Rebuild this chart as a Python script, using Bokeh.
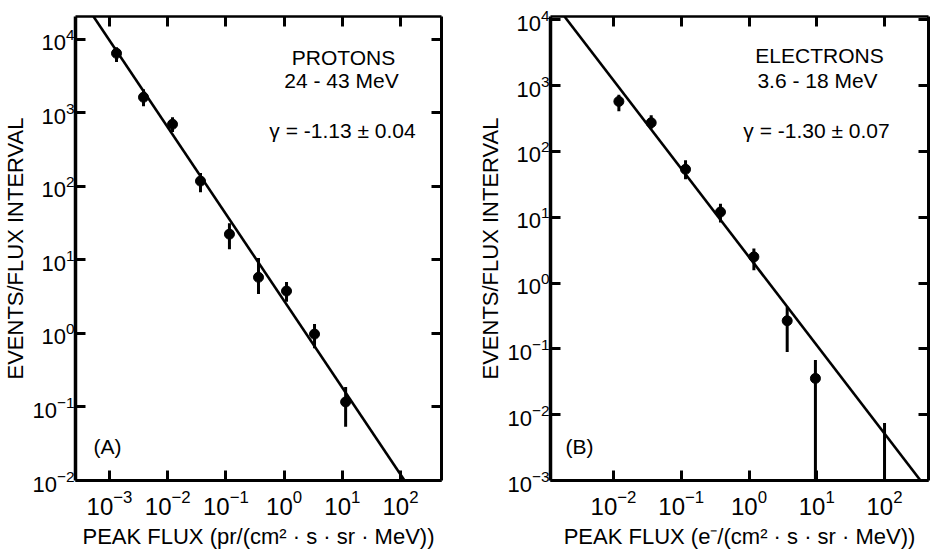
import math
from bokeh.plotting import figure
from bokeh.layouts import row
from bokeh.models import (Range1d, LogAxis, FixedTicker, Label, CustomJSTickFormatter,
                          LogTickFormatter)
from bokeh.embed import file_html
from bokeh.resources import INLINE

FONT = "Liberation Sans"

# ---------------- data ----------------
# Panel A: protons 24 - 43 MeV
prot_flux = [1.32e-3, 3.84e-3, 1.21e-2, 3.66e-2, 0.115, 0.363, 1.10, 3.33, 11.4]
prot_rate = [6450, 1630, 700, 118, 22.4, 5.8, 3.77, 0.98, 0.117]
prot_lo = [4900, 1230, 550, 83, 14.0, 3.43, 2.7, 0.63, 0.054]
prot_hi = [7800, 2090, 870, 152, 31.6, 10.6, 5.0, 1.34, 0.187]
prot_fit_flux = [5.31e-4, 117.2]
prot_fit_rate = [20400, 0.01]

# Panel B: electrons 3.6 - 18 MeV
elec_flux = [0.0120, 0.036, 0.1156, 0.379, 1.18, 3.66, 9.55, 100]
elec_rate = [575, 273, 53.5, 12.0, 2.5, 0.267, 0.0356, float("nan")]
elec_lo = [406, 222, 37.7, 8.3, 1.57, 0.090, 0.001, 0.001]
elec_hi = [728, 353, 73.3, 16.1, 3.35, 0.435, 0.0676, 0.0075]
elec_fit_flux = [1.89e-3, 340]
elec_fit_rate = [11220, 0.001]

# tick values
xticks_A = [1e-3, 1e-2, 1e-1, 1e0, 1e1, 1e2]
yticks_A = [1e-2, 1e-1, 1e0, 1e1, 1e2, 1e3, 1e4]
xticks_B = [1e-2, 1e-1, 1e0, 1e1, 1e2]
yticks_B = [1e-3, 1e-2, 1e-1, 1e0, 1e1, 1e2, 1e3, 1e4]

# ---------------- layout constants ----------------
W, H = 465, 554
TOP, BOT = 16, 480          # frame top / bottom (px from top)


def make_panel(cfg):
    xl0, xl1 = cfg["xlog"]
    yl0, yl1 = cfg["ylog"]
    bl, br = cfg["border_l"], cfg["border_r"]
    fw = W - bl - br

    def dx(px):
        return 10 ** (xl0 + (px - bl) / fw * (xl1 - xl0))

    def dy(py):
        return 10 ** (yl1 - (py - TOP) / (BOT - TOP) * (yl1 - yl0))

    p = figure(width=W, height=H, x_axis_type="log", y_axis_type="log",
               x_range=Range1d(10 ** xl0, 10 ** xl1),
               y_range=Range1d(10 ** yl0, 10 ** yl1),
               output_backend="svg", toolbar_location=None,
               min_border_left=bl, min_border_right=br,
               min_border_top=TOP, min_border_bottom=H - BOT)
    p.grid.visible = False
    p.outline_line_color = None
    p.background_fill_color = "white"
    p.border_fill_color = "white"

    def style(ax, ticks, lw, labels, size="24px"):
        ax.ticker = FixedTicker(ticks=ticks)
        if labels:
            ax.formatter = LogTickFormatter()
            ax.major_label_text_font = FONT
            ax.major_label_text_font_size = size
            ax.major_label_text_color = "black"
            ax.axis_label_text_font = FONT
            ax.axis_label_text_font_size = "22px"
            ax.axis_label_text_font_style = "normal"
            ax.axis_label_text_color = "black"
        else:
            ax.formatter = CustomJSTickFormatter(code="return ''")
            ax.major_label_text_font_size = "1px"
        ax.major_tick_in = 10
        ax.major_tick_out = 0
        ax.minor_tick_in = 0
        ax.minor_tick_out = 0
        ax.minor_tick_line_color = None
        ax.axis_line_width = lw
        ax.major_tick_line_width = 3
        ax.axis_line_color = "black"
        ax.major_tick_line_color = "black"

    xa, ya = p.xaxis[0], p.yaxis[0]
    style(xa, cfg["xticks"], 3, True, "24px")
    style(ya, cfg["yticks"], 3.5, True, "22px")
    xa.axis_label = cfg["xtitle"]
    xa.major_label_standoff = 9
    xa.axis_label_standoff = 6
    ya.axis_label = "EVENTS/FLUX INTERVAL"
    ya.major_label_standoff = 1
    ya.axis_label_standoff = 1

    top_ax = LogAxis()
    right_ax = LogAxis()
    style(top_ax, cfg["xticks"], 2.5, False)
    style(right_ax, cfg["yticks"], 3, False)
    p.add_layout(top_ax, "above")
    p.add_layout(right_ax, "right")

    # data
    p.line(cfg["fit_x"], cfg["fit_y"], line_width=2.6, color="black")
    p.segment(x0=cfg["flux"], y0=cfg["lo"], x1=cfg["flux"], y1=cfg["hi"],
              line_width=3, color="black")
    p.scatter(cfg["flux"], cfg["rate"], size=10, color="black")

    # annotations inside the frame
    for txt, px, py, align in cfg["notes"]:
        p.add_layout(Label(x=dx(px), y=dy(py), text=txt, text_align=align,
                           text_baseline="alphabetic", text_font=FONT,
                           text_font_size="21px", text_color="black"))
    return p


cfgA = dict(xlog=(-3.584, 2.704), ylog=(-2.0, 4.31), border_l=75, border_r=24,
            xticks=xticks_A, yticks=yticks_A,
            flux=prot_flux, rate=prot_rate, lo=prot_lo, hi=prot_hi,
            fit_x=prot_fit_flux, fit_y=prot_fit_rate,
            xtitle="PEAK FLUX (pr/(cm\u00b2 \u00b7 s \u00b7 sr \u00b7 MeV))",
            notes=[("PROTONS", 343, 56.5, "center"),
                   ("24 - 43 MeV", 341, 80, "center"),
                   ("\u03b3 = -1.13 \u00b1 0.04", 342, 130, "center"),
                   ("(A)", 93, 446, "left")])

cfgB = dict(xlog=(-2.930, 2.649), ylog=(-3.0, 4.05), border_l=85, border_r=2,
            xticks=xticks_B, yticks=yticks_B,
            flux=elec_flux, rate=elec_rate, lo=elec_lo, hi=elec_hi,
            fit_x=elec_fit_flux, fit_y=elec_fit_rate,
            xtitle="PEAK FLUX (e\u207b/(cm\u00b2 \u00b7 s \u00b7 sr \u00b7 MeV))",
            notes=[("ELECTRONS", 354, 55, "center"),
                   ("3.6 - 18 MeV", 352, 80, "center"),
                   ("\u03b3 = -1.30 \u00b1 0.07", 351, 130, "center"),
                   ("(B)", 100, 446, "left")])

pA = make_panel(cfgA)
pB = make_panel(cfgB)
layout = row(pA, pB, spacing=0)

open("out.html", "w").write(file_html(layout, INLINE))
